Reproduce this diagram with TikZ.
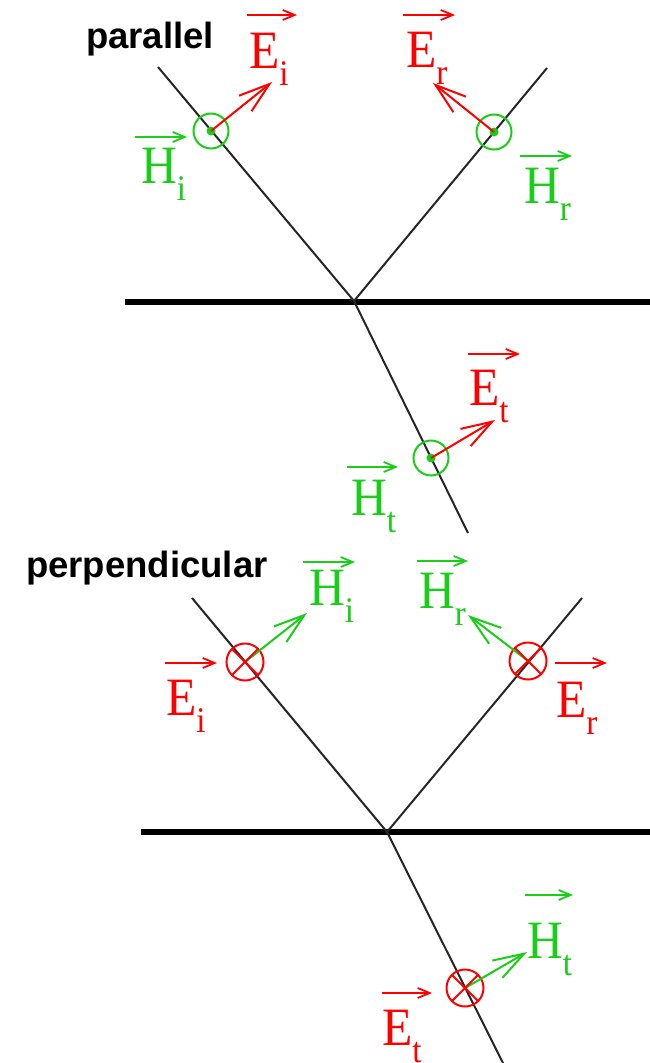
\documentclass[tikz,border=0pt]{standalone}
\usepackage{fontspec}
\setmainfont{Liberation Serif}
\newfontfamily\titlefont{Liberation Sans}
\usetikzlibrary{arrows.meta}
\definecolor{fred}{RGB}{255,0,0}
\definecolor{fgreen}{RGB}{25,205,25}
\newcommand{\vlab}[2]{\scalebox{0.92}[1]{#1\raisebox{-17pt}{\fontsize{36}{36}\selectfont #2}}}
\tikzset{
  thinline/.style={line width=2pt, black!85},
  iface/.style={line width=6pt, black},
  lab/.style={anchor=base west, inner sep=0pt, outer sep=0pt, font=\fontsize{54}{54}\selectfont},
  ttl/.style={anchor=base west, inner sep=0pt, font=\titlefont\bfseries\fontsize{36.5}{36.5}\selectfont},
  ovec/.style={line width=1.8pt, -{Straight Barb[length=12pt,width=10pt]}},
  mvec/.style={line width=2pt, -{Straight Barb[length=31pt,width=20pt]}},
  pcirc/.style={circle, draw=fgreen, line width=2pt, minimum size=35pt, inner sep=0pt, outer sep=0pt},
  xcirc/.style={circle, draw=fred, line width=2pt, minimum size=37pt, inner sep=0pt, outer sep=0pt},
}
\begin{document}
\begin{tikzpicture}[x=1pt,y=-1pt]
\useasboundingbox (0,0) rectangle (650,1063);
% ---------- parallel ----------
\coordinate (t1a) at (158,67);
\coordinate (v1) at (354,301);
\coordinate (t1b) at (547,68);
\coordinate (t1c) at (468,533);
\coordinate (if1l) at (125,302);
\coordinate (if1r) at (650,302);
\draw[iface] (if1l) -- (if1r);
\draw[thinline] (t1a) -- (v1) -- (t1b);
\draw[thinline] (v1) -- (t1c);
\node[ttl] (title1) at (86,48) {parallel};

\node[pcirc] (c1) at (211,131) {};
\node[pcirc] (c2) at (494,132) {};
\node[pcirc] (c3) at (431,458) {};
\foreach \c in {c1,c2,c3} \fill[fgreen] (\c.center) circle (4.5pt);

\coordinate (a1) at (272,82);
\coordinate (a2) at (433,83);
\coordinate (a3) at (495,420);
\draw[mvec, fred] (c1.center) -- (a1);
\draw[mvec, fred] (c2.center) -- (a2);
\draw[mvec, fred] (c3.center) -- (a3);

\node[lab, fred] (L1) at (249,68) {\vlab{E}{i}};
\draw[ovec, fred] ([xshift=-2pt,yshift=53pt]L1.base west) -- ++(50pt,0);
\node[lab, fgreen] (L2) at (141,183) {\vlab{H}{i}};
\draw[ovec, fgreen] ([xshift=-6pt,yshift=46pt]L2.base west) -- ++(52pt,0);
\node[lab, fred] (L3) at (406,67) {\vlab{E}{r}};
\draw[ovec, fred] ([xshift=-3pt,yshift=52pt]L3.base west) -- ++(52pt,0);
\node[lab, fgreen] (L4) at (524,203) {\vlab{H}{r}};
\draw[ovec, fgreen] ([xshift=-4pt,yshift=47pt]L4.base west) -- ++(52pt,0);
\node[lab, fred] (L5) at (469,405) {\vlab{E}{t}};
\draw[ovec, fred] ([xshift=-1pt,yshift=51pt]L5.base west) -- ++(52pt,0);
\node[lab, fgreen] (L6) at (351,515) {\vlab{H}{t}};
\draw[ovec, fgreen] ([xshift=-4pt,yshift=48pt]L6.base west) -- ++(51pt,0);

% ---------- perpendicular ----------
\coordinate (t2a) at (192,598);
\coordinate (v2) at (387,832);
\coordinate (t2b) at (582,598);
\coordinate (t2c) at (503,1063);
\coordinate (if2l) at (141,832);
\coordinate (if2r) at (650,832);
\draw[iface] (if2l) -- (if2r);
\draw[thinline] (t2a) -- (v2) -- (t2b);
\draw[thinline] (v2) -- (t2c);
\node[ttl] (title2) at (26,577) {perpendicular};

\coordinate (a4) at (307,613);
\coordinate (a5) at (468,615);
\coordinate (a6) at (527,952);
\node[xcirc] (c4) at (245,662) {};
\node[xcirc] (c5) at (528,661) {};
\node[xcirc] (c6) at (465,988) {};
\draw[mvec, fgreen] (c4.center) -- (a4);
\draw[mvec, fgreen] (c5.center) -- (a5);
\draw[mvec, fgreen] (c6.center) -- (a6);
\foreach \c in {c4,c5,c6} {
  \draw[fred, line width=2pt] (\c.north west) -- (\c.south east);
  \draw[fred, line width=2pt] (\c.north east) -- (\c.south west);
}

\node[lab, fgreen] (L7) at (309,605) {\vlab{H}{i}};
\draw[ovec, fgreen] ([xshift=-6pt,yshift=43pt]L7.base west) -- ++(52pt,0);
\node[lab, fred] (L8) at (166,715) {\vlab{E}{i}};
\draw[ovec, fred] ([xshift=-1pt,yshift=52pt]L8.base west) -- ++(52pt,0);
\node[lab, fgreen] (L9) at (419,608) {\vlab{H}{r}};
\draw[ovec, fgreen] ([xshift=-2pt,yshift=47pt]L9.base west) -- ++(51pt,0);
\node[lab, fred] (L10) at (556,717) {\vlab{E}{r}};
\draw[ovec, fred] ([xshift=-1pt,yshift=54pt]L10.base west) -- ++(52pt,0);
\node[lab, fgreen] (L11) at (527,958) {\vlab{H}{t}};
\draw[ovec, fgreen] ([xshift=-2pt,yshift=63pt]L11.base west) -- ++(48pt,0);
\node[lab, fred] (L12) at (382,1045) {\vlab{E}{t}};
\draw[ovec, fred] ([xshift=0pt,yshift=52pt]L12.base west) -- ++(50pt,0);
\end{tikzpicture}
\end{document}
